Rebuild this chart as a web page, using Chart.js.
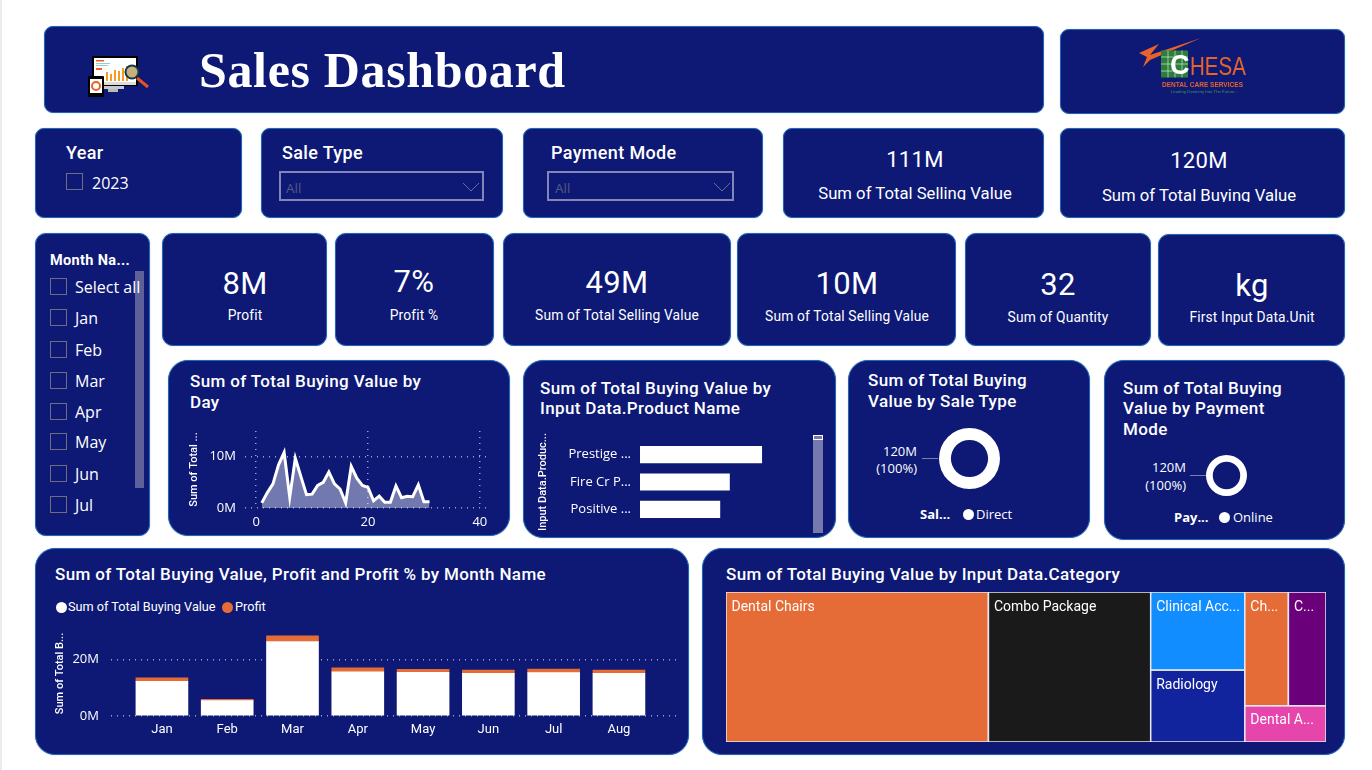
<!DOCTYPE html>
<html>
<head>
<meta charset="utf-8">
<title>Sales Dashboard</title>
<script src="https://cdn.jsdelivr.net/npm/chart.js@4"></script>
<style>
html, body { margin: 0; padding: 0; background: #fff; overflow: hidden; }
#page { position: relative; width: 1372px; height: 770px; overflow: hidden; }
.card { position: absolute; box-sizing: border-box; background: #0d1975; border: 1.5px solid #1f67b8; box-shadow: 0 0 1px rgba(40,90,170,.6); }
.t { position: absolute; color: #fff; white-space: nowrap; font-family: "Open Sans", sans-serif; }
.din { font-family: Roboto, sans-serif; font-weight: 500; letter-spacing: .35px; }
canvas { position: absolute; }
.box { position: absolute; box-sizing: border-box; width: 17px; height: 17px; border: 1.5px solid #6d6d80; }
.dd { position: absolute; box-sizing: border-box; height: 30px; border: 2px solid #8286b6; }
.dot { position: absolute; width: 11px; height: 11px; border-radius: 50%; }
.lead { position: absolute; height: 1px; background: #7a7eae; }
</style>
</head>
<body>
<div id="page">

<svg style="position:absolute;left:0;top:0" width="1372" height="770" id="art"></svg>

<canvas id="dayChart" width="335" height="105" style="left:188px;top:425px"></canvas>
<canvas id="productChart" width="273" height="100" style="left:537px;top:430px"></canvas>
<canvas id="saleDonut" width="61" height="61" style="left:939px;top:428px"></canvas>
<canvas id="payDonut" width="41" height="41" style="left:1206px;top:455px"></canvas>
<canvas id="monthChart" width="635" height="120" style="left:54px;top:625px"></canvas>
<canvas id="treeChart" width="600" height="150" style="left:726px;top:592px"></canvas>
</div>

<script>
// ---- data ----
const days = [1,2,3,4,5,6,7,8,9,10,11,12,13,14,15,16,17,18,19,20,21,22,23,24,25,26,27,28,29,30,31];
const dayValues = [1.0,3.0,4.7,8.4,10.8,2.1,9.7,6.1,2.6,2.7,4.4,5.0,7.0,4.7,3.7,1.0,8.1,5.8,4.4,4.0,1.4,2.3,1.1,1.1,4.3,2.0,2.3,2.2,4.5,1.2,1.2];

const products = ["Prestige ...", "Fire Cr P...", "Positive ..."];
const productValues = [14.0, 10.3, 9.2];

const months = ["Jan","Feb","Mar","Apr","May","Jun","Jul","Aug"];
const buyingValues = [12.2,5.4,26.3,15.6,15.4,15.1,15.3,15.1];
const profitValues = [1.3,0.5,2.0,1.4,1.1,1.1,1.3,1.1];

const saleTypes = ["Direct"];
const saleValues = [120];
const payModes = ["Online"];
const payValues = [120];

const categories = ["Dental Chairs","Combo Package","Clinical Acc...","Radiology","Ch...","C...","Dental A..."];
const categoryValues = [52.4,32.4,9.8,9.0,6.6,5.7,3.9];
const categoryColors = ["#E66C37","#1A1A1A","#118DFF","#12239E","#E66C37","#6B007B","#E645AB"];
// treemap grouping: columns, each split in rows, each split in columns
const categoryTree = [0,1,[2,3],[[4,5],6]];

const slicerMonths = ["Select all","Jan","Feb","Mar","Apr","May","Jun","Jul"];
const slicerRows = [287,318,350,381,412,442,474,505];

// ---- page furniture ----
const page = document.getElementById("page");

function card(x, y, x2, y2, r) {
    const d = document.createElement("div");
    d.className = "card";
    d.style.cssText = `left:${x}px;top:${y}px;width:${x2-x}px;height:${y2-y}px;border-radius:${r}px`;
    page.insertBefore(d, page.firstChild);
}
function txt(x, y, s, size, opts) {
    opts = opts || {};
    const d = document.createElement("div");
    d.className = "t " + (opts.din ? "din" : "");
    d.textContent = s;
    const tx = opts.align == "center" ? "-50%" : opts.align == "right" ? "-100%" : "0";
    d.style.cssText = `left:${x}px;top:${y}px;font-size:${size}px;line-height:1;transform:translate(${tx},-50%)`;
    if (opts.color) d.style.color = opts.color;
    if (opts.weight) d.style.fontWeight = opts.weight;
    if (opts.font) d.style.fontFamily = opts.font;
    if (opts.spacing != null) d.style.letterSpacing = opts.spacing + "px";
    if (opts.clip) { d.style.lineHeight = (opts.clip*1.3)+"px"; d.style.height = opts.clip+"px"; d.style.overflow = "hidden"; }
    page.appendChild(d);
}
function el(cls, css) {
    const d = document.createElement("div");
    d.className = cls;
    d.style.cssText = css;
    page.appendChild(d);
}

// cards
[[44,26,1044,113,9],[1060,29,1345,114,9],
 [35,128,242,218,9],[261,128,503,218,9],[523,128,763,218,9],[783,128,1044,218,9],[1060,128,1345,218,9],
 [35,233,150,536,11],[162,233,327,346,11],[335,233,494,346,11],[503,233,731,346,11],[737,233,956,346,11],[965,233,1151,346,11],[1158,234,1345,346,11],
 [168,360,510,536,20],[523,360,836,538,20],[848,360,1090,538,20],[1104,360,1345,540,20],
 [35,548,689,755,20],[702,548,1345,755,20]].forEach(c => card(...c));
el("", "position:absolute;left:0;top:0;width:2px;height:770px;background:#ececec");

txt(199, 70, "Sales Dashboard", 50, {font:'"Liberation Serif", serif', weight:700, spacing:0.65});

txt(66, 153, "Year", 18, {din:true});
el("box", "left:66px;top:173px");
txt(92, 183, "2023", 16);

txt(282, 153, "Sale Type", 18, {din:true});
el("dd", "left:279px;top:171px;width:205px");
txt(286, 188.5, "All", 13.5, {color:"#565a80"});
txt(551, 153, "Payment Mode", 18, {din:true});
el("dd", "left:547px;top:171px;width:187px");
txt(555, 188.5, "All", 13.5, {color:"#565a80"});

txt(915, 160, "111M", 22, {din:true, weight:400, align:"center"});
txt(915, 191, "Sum of Total Selling Value", 16.7, {align:"center", clip:18, font:'Roboto, sans-serif'});
txt(1199, 161, "120M", 22, {din:true, weight:400, align:"center"});
txt(1199, 193, "Sum of Total Buying Value", 16.7, {align:"center", clip:18, font:'Roboto, sans-serif'});

const kpis = [
    [245,"8M","Profit",283,316],[414,"7%","Profit %",281,316],[617,"49M","Sum of Total Selling Value",282,316],
    [847,"10M","Sum of Total Selling Value",283,317],[1058,"32","Sum of Quantity",284,318],[1252,"kg","First Input Data.Unit",285,318]
];
kpis.forEach(k => {
    txt(k[0], k[3], k[1], 31, {din:true, weight:400, align:"center"});
    txt(k[0], k[4], k[2], 13.8, {align:"center", font:'Roboto, sans-serif', spacing:.15});
});

txt(50, 261, "Month Na...", 14.5, {din:true, weight:700});
el("", "position:absolute;left:135px;top:271px;width:9px;height:217px;background:#5e6199");
slicerMonths.forEach((m, i) => {
    el("box", `left:50px;top:${slicerRows[i]-9}px`);
    txt(75, slicerRows[i], m, 16);
});

function titleLines(x, ys, lines) { lines.forEach((l, i) => txt(x, ys[i], l, 17, {din:true})); }
titleLines(190, [381,402], ["Sum of Total Buying Value by","Day"]);
titleLines(540, [388,408], ["Sum of Total Buying Value by","Input Data.Product Name"]);
titleLines(868, [380,401], ["Sum of Total Buying","Value by Sale Type"]);
titleLines(1123, [388,408,429], ["Sum of Total Buying","Value by Payment","Mode"]);
titleLines(55, [574], ["Sum of Total Buying Value, Profit and Profit % by Month Name"]);
titleLines(726, [574], ["Sum of Total Buying Value by Input Data.Category"]);

// product scrollbar
el("", "position:absolute;left:813px;top:435px;width:10px;height:98px;background:#7679ad");
el("", "position:absolute;left:813px;top:435px;width:10px;height:5px;box-sizing:border-box;border:1px solid #fff;background:#7679ad");

// donut labels and legends
el("lead", "left:922px;top:458px;width:16px");
txt(917, 451, "120M", 13, {align:"right"});
txt(917, 468, "(100%)", 13, {align:"right"});
txt(920, 514, "Sal...", 13, {weight:700});
el("dot", "left:963px;top:508.5px;background:#fff");
txt(976, 514, saleTypes[0], 13);

el("lead", "left:1190px;top:475px;width:16px");
txt(1186, 467, "120M", 13, {align:"right"});
txt(1186, 485, "(100%)", 13, {align:"right"});
txt(1174, 517, "Pay...", 13, {weight:700});
el("dot", "left:1219px;top:511.5px;background:#fff");
txt(1233, 517, payModes[0], 13);

// stacked chart legend
el("dot", "left:56px;top:601.5px;background:#fff");
txt(68, 607, "Sum of Total Buying Value", 12.7, {font:'Roboto, sans-serif'});
el("dot", "left:222px;top:601.5px;background:#E66C37");
txt(235, 607, "Profit", 12.7, {font:'Roboto, sans-serif'});

// header icon, logo, chevrons
document.getElementById("art").innerHTML = `
<g>
<polyline points="463,183 471,191 479,183" fill="none" stroke="#666a9c" stroke-width="1"/>
<polyline points="714,183 722,191 730,183" fill="none" stroke="#666a9c" stroke-width="1"/>
<rect x="102" y="85" width="22" height="4" fill="#c9c9c9"/><rect x="108" y="89" width="10" height="3" fill="#bbb"/>
<rect x="92" y="56" width="46" height="30" fill="#000"/><rect x="94" y="58" width="42" height="24" fill="#fff"/>
<rect x="94" y="82" width="42" height="3" fill="#ddd"/>
<rect x="96" y="60" width="8" height="1.5" fill="#e8632a"/><rect x="96" y="63" width="14" height="1" fill="#9cc"/><rect x="96" y="65" width="12" height="1" fill="#9cc"/><rect x="96" y="68" width="6" height="2" fill="#e8632a"/>
<rect x="106" y="72" width="2" height="9" fill="#f39c1f"/><rect x="110" y="74" width="2" height="7" fill="#f39c1f"/><rect x="114" y="70" width="2" height="11" fill="#f39c1f"/><rect x="118" y="71" width="2" height="10" fill="#f39c1f"/><rect x="122" y="68" width="2" height="13" fill="#f39c1f"/><rect x="126" y="66" width="2" height="15" fill="#f39c1f"/>
<line x1="137" y1="78" x2="148" y2="87" stroke="#e8501f" stroke-width="3"/>
<circle cx="132" cy="72" r="6.5" fill="#c9b27a" stroke="#12394f" stroke-width="2"/>
<rect x="88" y="76" width="16" height="21" rx="1" fill="#000"/><rect x="90" y="79" width="12" height="14" fill="#fff"/>
<circle cx="96" cy="86" r="4" fill="none" stroke="#e8632a" stroke-width="2"/>
<polygon points="1139,53 1159,44 1150,55 1201,38 1150,60 1143,67 1147,57" fill="#e8632a"/>
<rect x="1161" y="50.5" width="27" height="27" fill="#2f7d3a"/>
<path d="M1161 57h27M1161 64h27M1161 71h27M1168 50.5v27M1175 50.5v27M1182 50.5v27" stroke="#dfe" stroke-width=".6"/>
<text x="1170" y="74" font-family="Liberation Sans" font-size="27" font-weight="700" fill="#fff">C</text>
<text x="1190" y="75" font-family="Liberation Sans" font-size="25" fill="#e8632a" textLength="56" lengthAdjust="spacingAndGlyphs">HESA</text>
<text x="1162" y="87" font-family="Liberation Sans" font-size="7.6" font-weight="700" fill="#e8632a" textLength="81" lengthAdjust="spacingAndGlyphs">DENTAL CARE SERVICES</text>
<text x="1171" y="93" font-family="Liberation Sans" font-size="4.4" fill="#3f9a55" textLength="67" lengthAdjust="spacingAndGlyphs">Leading Dentistry Into The Future...</text>
</g>`;
document.getElementById("art").style.zIndex = 2;

// ---- charts ----
Chart.defaults.animation = false;
Chart.defaults.responsive = false;
Chart.defaults.color = "#fff";
Chart.defaults.font.family = '"Open Sans", sans-serif';
Chart.defaults.font.size = 13;
Chart.defaults.plugins.legend.display = false;
Chart.defaults.plugins.tooltip.enabled = false;

const dotted = { color: "rgba(255,255,255,.6)", lineWidth: 1.5, tickLength: 0, drawTicks: false };
const dottedBorder = { display: false, dash: [1, 5] };
const axisTitle = (s) => ({ display: true, text: s, padding: 0, font: { size: 11, family: "Roboto, sans-serif", weight: 500 } });
const fixedTicks = (vals) => (s) => { s.ticks = vals.map(v => ({ value: v })); };
// fixed axis box, without the label padding chart.js would add around the plot
const fixedBox = (w, h) => (s) => {
    if (w) s.width = w;
    if (h) s.height = h;
    s.paddingTop = s.paddingBottom = s.paddingLeft = s.paddingRight = 0;
};

new Chart(document.getElementById("dayChart"), {
    type: "line",
    data: {
        labels: days,
        datasets: [{
            data: days.map((d, i) => ({ x: d, y: dayValues[i] })),
            borderColor: "#fff", borderWidth: 3, pointRadius: 0, tension: 0,
            fill: "origin", backgroundColor: "rgba(255,255,255,.42)"
        }]
    },
    options: {
        layout: { padding: { top: 6, right: 32 } },
        scales: {
            x: {
                type: "linear", min: -2, max: 42,
                afterBuildTicks: fixedTicks([0, 20, 40]),
                afterFit: fixedBox(0, 22),
                grid: dotted, border: dottedBorder,
                ticks: { padding: 6, maxRotation: 0 }
            },
            y: {
                min: 0, max: 15,
                afterBuildTicks: fixedTicks([0, 10]),
                afterFit: fixedBox(57, 0),
                grid: dotted, border: dottedBorder,
                ticks: { padding: 9, callback: v => v + "M" },
                title: axisTitle("Sum of Total ...")
            }
        }
    }
});

new Chart(document.getElementById("productChart"), {
    type: "bar",
    data: { labels: products, datasets: [{ data: productValues, backgroundColor: "#fff", categoryPercentage: 1, barPercentage: 0.63 }] },
    options: {
        indexAxis: "y",
        layout: { padding: { top: 11, bottom: 7 } },
        scales: {
            x: { display: false, min: 0, max: 19.5 },
            y: {
                afterFit: fixedBox(103, 0),
                grid: { display: false, drawTicks: false, tickLength: 0 }, border: { display: false },
                ticks: { padding: 9, autoSkip: false },
                title: axisTitle("Input Data.Produc...")
            }
        }
    }
});

function donut(id, labels, values, cut) {
    new Chart(document.getElementById(id), {
        type: "doughnut",
        data: { labels: labels, datasets: [{ data: values, backgroundColor: "#fff", borderWidth: 0 }] },
        options: { cutout: cut }
    });
}
donut("saleDonut", saleTypes, saleValues, "61%");
donut("payDonut", payModes, payValues, "67%");

new Chart(document.getElementById("monthChart"), {
    type: "bar",
    data: {
        datasets: [
            { label: "Sum of Total Buying Value", data: months.map((m, i) => ({ x: i, y: buyingValues[i] })), backgroundColor: "#fff", barThickness: 52 },
            { label: "Profit", data: months.map((m, i) => ({ x: i, y: profitValues[i] })), backgroundColor: "#E66C37", barThickness: 52 }
        ]
    },
    options: {
        layout: { padding: { top: 6, right: 10 } },
        scales: {
            x: {
                type: "linear", offset: false, stacked: true, min: -0.78, max: 7.92,
                afterBuildTicks: fixedTicks(months.map((m, i) => i)),
                afterFit: fixedBox(0, 29),
                grid: { display: false, drawTicks: false, tickLength: 0 }, border: { display: false },
                ticks: { padding: 6, maxRotation: 0, autoSkip: false, callback: v => months[v], font: { family: "Roboto, sans-serif" } }
            },
            y: {
                stacked: true, min: 0, max: 30,
                afterBuildTicks: fixedTicks([0, 20]),
                afterFit: fixedBox(57, 0),
                grid: dotted, border: dottedBorder,
                ticks: { padding: 12, callback: v => v + "M" },
                title: axisTitle("Sum of Total B...")
            }
        }
    }
});

// no treemap type in plain Chart.js, so the tiles are split here from the values and placed through the scales
function nodeSum(n) { return Array.isArray(n) ? n.reduce((a, c) => a + nodeSum(c), 0) : categoryValues[n]; }
function splitTree(node, x0, y0, x1, y1, across, out) {
    if (!Array.isArray(node)) { out.push({ i: node, x0, y0, x1, y1 }); return out; }
    const total = nodeSum(node);
    let pos = 0;
    node.forEach(n => {
        const a = pos / total, b = (pos + nodeSum(n)) / total;
        pos += nodeSum(n);
        if (across) splitTree(n, x0 + (x1 - x0) * a, y0, x0 + (x1 - x0) * b, y1, false, out);
        else splitTree(n, x0, y0 + (y1 - y0) * a, x1, y0 + (y1 - y0) * b, true, out);
    });
    return out;
}
const treePlugin = {
    id: "treeTiles",
    afterDatasetsDraw(chart) {
        const c = chart.ctx, sx = chart.scales.x, sy = chart.scales.y;
        splitTree(categoryTree, 0, 0, 100, 100, true, []).forEach(t => {
            const x = sx.getPixelForValue(t.x0), x2 = sx.getPixelForValue(t.x1);
            const y = sy.getPixelForValue(t.y0), y2 = sy.getPixelForValue(t.y1);
            c.fillStyle = categoryColors[t.i];
            c.fillRect(x, y, x2 - x, y2 - y);
            c.strokeStyle = "#e8e8f2";
            c.lineWidth = 1.5;
            c.strokeRect(x, y, x2 - x, y2 - y);
            c.fillStyle = "#fff";
            c.font = '14px Roboto, sans-serif';
            c.textBaseline = "middle";
            c.fillText(categories[t.i], x + 5.5, y + 15);
        });
    }
};
new Chart(document.getElementById("treeChart"), {
    type: "scatter",
    data: { labels: categories, datasets: [{ data: categoryValues.map((v, i) => ({ x: 0, y: 0 })), pointRadius: 0 }] },
    plugins: [treePlugin],
    options: {
        scales: {
            x: { display: false, min: 0, max: 100 },
            y: { display: false, min: 0, max: 100, reverse: true }
        }
    }
});
</script>
</body>
</html>
